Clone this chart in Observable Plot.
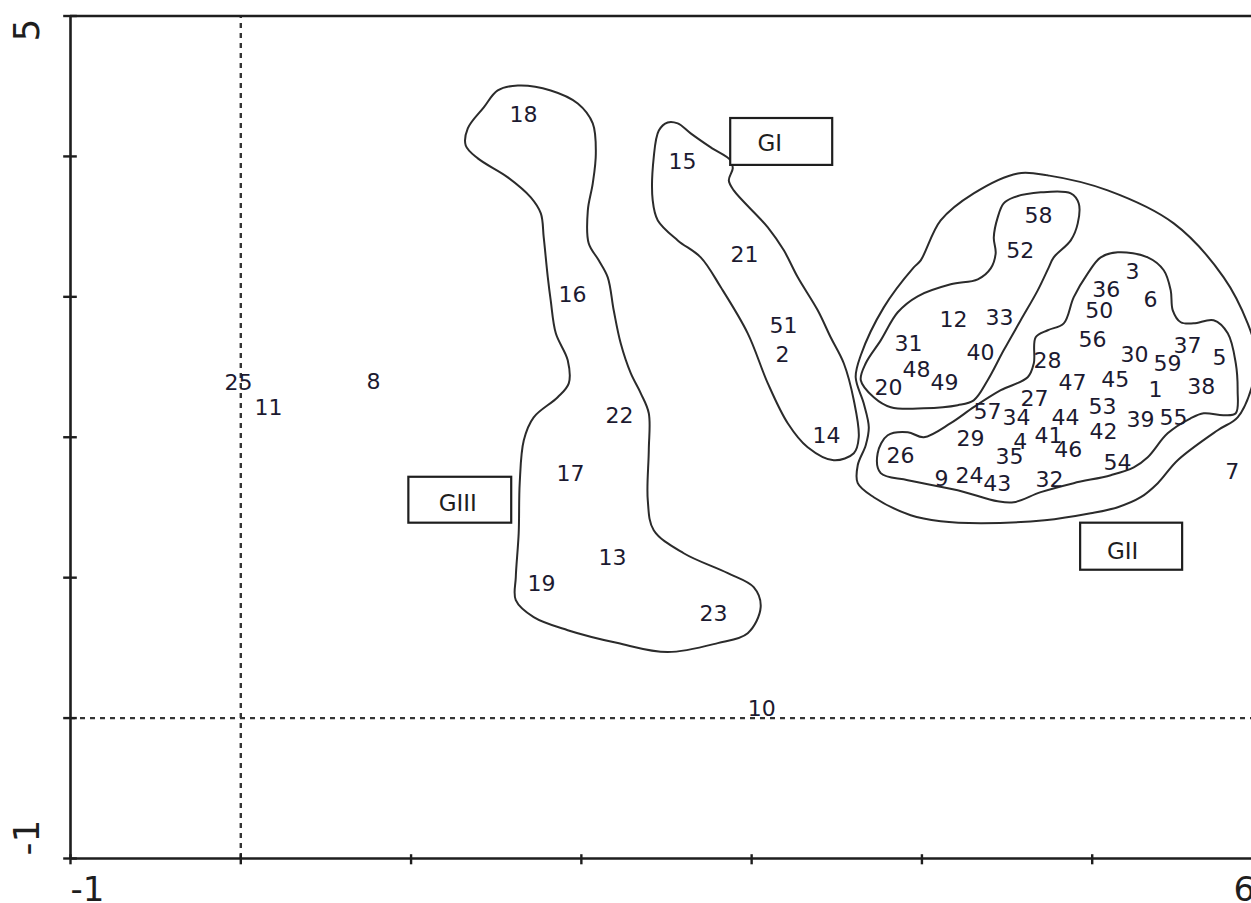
<!DOCTYPE html>
<html>
<head>
<meta charset="utf-8">
<script src="https://cdn.jsdelivr.net/npm/d3@7"></script>
<script src="https://cdn.jsdelivr.net/npm/@observablehq/plot@0.6"></script>
<style>
  html, body { margin: 0; padding: 0; background: #fff; overflow: hidden; }
  #chart { width: 1251px; height: 903px; overflow: hidden; }
</style>
</head>
<body>
<div id="chart"></div>
<script>
// ---- point labels (accession numbers) ----
const pointIds = ["18","15","21","16","51","2","14","22","17","13","19","23","25","11","8","10",
  "58","52","3","36","6","50","12","33","31","40","56","28","30","59","37","5",
  "48","20","49","47","45","1","38","27","57","34","44","53","39","55","42",
  "29","4","41","46","35","26","54","9","24","43","32","7"];
const pointX = [1.660,2.594,2.958,1.948,3.187,3.181,3.439,2.224,1.936,2.183,1.766,2.776,-0.013,0.163,0.779,3.06,
  4.684,4.578,5.236,5.083,5.342,5.042,4.185,4.455,3.921,4.344,5.001,4.737,5.248,5.442,5.559,5.747,
  3.968,3.803,4.132,4.884,5.136,5.371,5.641,4.661,4.385,4.555,4.843,5.060,5.283,5.477,5.066,
  4.285,4.578,4.743,4.860,4.514,3.874,5.148,4.115,4.279,4.443,4.749,5.823];
const pointY = [4.295,3.961,3.299,3.014,2.794,2.587,2.011,2.153,1.740,1.142,0.957,0.744,2.388,2.210,2.395,0.065,
  3.577,3.327,3.178,3.050,2.979,2.900,2.836,2.851,2.665,2.601,2.694,2.544,2.587,2.523,2.651,2.566,
  2.480,2.352,2.388,2.388,2.409,2.338,2.359,2.274,2.181,2.139,2.139,2.217,2.125,2.139,2.039,
  1.989,1.968,2.011,1.911,1.861,1.868,1.819,1.705,1.726,1.669,1.698,1.754];

// ---- group outlines (data units) ----
const outlineGIII = [[1.627,4.505],[1.820,4.470],[1.979,4.377],[2.067,4.235],[2.085,4.021],[2.067,3.808],[2.038,3.616],
  [2.043,3.381],[2.102,3.260],[2.155,3.139],[2.190,2.904],[2.231,2.669],[2.290,2.456],[2.349,2.313],[2.396,2.171],
  [2.396,1.907],[2.390,1.552],[2.425,1.338],[2.601,1.174],[2.860,1.032],[3.012,0.932],[3.053,0.790],[2.977,0.605],
  [2.801,0.534],[2.507,0.470],[2.214,0.534],[1.920,0.626],[1.720,0.719],[1.615,0.840],[1.615,1.004],[1.632,1.317],
  [1.638,1.673],[1.662,1.979],[1.720,2.142],[1.861,2.285],[1.926,2.384],[1.920,2.548],[1.850,2.740],[1.820,2.975],
  [1.803,3.139],[1.779,3.423],[1.762,3.594],[1.703,3.708],[1.568,3.851],[1.392,3.986],[1.321,4.078],[1.333,4.199],
  [1.427,4.349],[1.509,4.470]];
const outlineGI = [[2.507,4.242],[2.566,4.235],[2.642,4.164],[2.760,4.064],[2.877,3.972],[2.889,3.915],[2.866,3.829],
  [2.895,3.758],[3.095,3.495],[3.189,3.331],[3.271,3.139],[3.388,2.904],[3.464,2.712],[3.541,2.527],[3.600,2.263],
  [3.629,2.000],[3.600,1.886],[3.482,1.836],[3.329,1.929],[3.212,2.100],[3.095,2.384],[2.977,2.740],[2.819,3.068],
  [2.701,3.281],[2.566,3.402],[2.449,3.544],[2.419,3.687],[2.425,3.993],[2.455,4.185]];
const outlineGIIa = [[4.480,3.665],[4.539,3.708],[4.698,3.744],[4.874,3.737],[4.921,3.665],[4.915,3.523],[4.874,3.402],
  [4.774,3.281],[4.745,3.210],[4.680,3.046],[4.580,2.833],[4.480,2.619],[4.386,2.406],[4.304,2.263],[4.210,2.228],
  [4.011,2.206],[3.817,2.214],[3.717,2.285],[3.641,2.406],[3.670,2.527],[3.758,2.690],[3.858,2.890],[3.975,3.004],
  [4.169,3.089],[4.328,3.125],[4.404,3.203],[4.433,3.310],[4.422,3.423],[4.445,3.566]];
const outlineGIIb = [[5.150,3.317],[5.326,3.281],[5.420,3.189],[5.461,3.046],[5.473,2.904],[5.520,2.819],[5.596,2.811],
  [5.713,2.833],[5.796,2.740],[5.843,2.527],[5.854,2.335],[5.843,2.171],[5.772,2.157],[5.655,2.171],[5.578,2.135],
  [5.443,2.028],[5.326,1.858],[5.244,1.786],[5.109,1.730],[4.891,1.673],[4.698,1.609],[4.539,1.537],[4.445,1.544],
  [4.210,1.623],[3.917,1.694],[3.758,1.744],[3.740,1.886],[3.799,2.014],[3.917,2.036],[4.011,2.000],[4.169,2.100],
  [4.304,2.214],[4.463,2.335],[4.621,2.427],[4.657,2.527],[4.668,2.712],[4.739,2.762],[4.833,2.811],[4.891,2.996],
  [4.974,3.167],[5.050,3.281]];
const outlineGII = [[4.563,3.879],[4.739,3.865],[5.091,3.758],[5.479,3.523],[5.772,3.139],[5.913,2.811],[5.966,2.584],
  [5.937,2.356],[5.854,2.142],[5.737,2.050],[5.502,1.836],[5.385,1.673],[5.285,1.573],[5.150,1.502],[4.991,1.459],
  [4.721,1.409],[4.345,1.388],[4.110,1.402],[3.934,1.445],[3.717,1.573],[3.623,1.673],[3.623,1.801],[3.670,1.943],
  [3.688,2.071],[3.658,2.242],[3.611,2.427],[3.641,2.584],[3.776,2.925],[3.952,3.210],[3.993,3.260],[4.110,3.544],
  [4.304,3.737]];

// ---- group boxes ----
const groupNames = ["GI", "GII", "GIII"];
const boxX1 = [2.877, 4.932, 0.987];
const boxX2 = [3.476, 5.531, 1.591];
const boxY1 = [3.936, 1.053, 1.388];
const boxY2 = [4.270, 1.388, 1.715];
const groupTextX = [3.106, 5.179, 1.274];
const groupTextY = [4.093, 1.189, 1.530];

// ---- axes ----
const xTicks = [-1, 0, 1, 2, 3, 4, 5];
const yTicks = [-1, 0, 1, 2, 3, 4, 5];
const xMinLabel = [{v: -1, t: "-1"}];
const xMaxLabel = [{v: 6, t: "6"}];
const yMaxLabel = [{v: 5, t: "5"}];
const yMinLabel = [{v: -1, t: "-1"}];

// build tables
const points = pointIds.map((id, i) => ({id, x: pointX[i], y: pointY[i]}));
const outlines = [];
[["GIII", outlineGIII], ["GI", outlineGI], ["GIIa", outlineGIIa], ["GIIb", outlineGIIb], ["GII", outlineGII]]
  .forEach(([g, arr]) => arr.forEach(([x, y]) => outlines.push({g, x, y})));
const boxes = groupNames.map((name, i) => ({name, x1: boxX1[i], x2: boxX2[i], y1: boxY1[i], y2: boxY2[i], tx: groupTextX[i], ty: groupTextY[i]}));

const ink = "#1e1e1e";
const tx = 0.04, ty = 0.045; // half tick length in data units

const chart = Plot.plot({
  width: 1251,
  height: 903,
  margin: 0,
  x: {domain: [-1, 6], range: [70, 1262], axis: null},
  y: {domain: [-1, 5], range: [858, 15.5], axis: null},
  style: {fontFamily: "'DejaVu Sans', sans-serif", background: "white", overflow: "hidden"},
  marks: [
    // dashed reference lines
    Plot.ruleX([0], {y1: -1, y2: 5, stroke: "#333", strokeWidth: 2.4, strokeDasharray: "5,5"}),
    Plot.ruleY([0], {x1: -1, x2: 6, stroke: "#333", strokeWidth: 2.4, strokeDasharray: "5,5"}),
    // frame lines
    Plot.ruleX([-1], {y1: -1, y2: 5, stroke: ink, strokeWidth: 2.6}),
    Plot.ruleY([-1], {x1: -1, x2: 6, stroke: ink, strokeWidth: 2.6}),
    Plot.ruleY([5], {x1: -1, x2: 6, stroke: ink, strokeWidth: 2.4}),
    // ticks
    Plot.ruleY(yTicks, {y: d => d, x1: -1 - tx, x2: -1 + tx, stroke: ink, strokeWidth: 2.4}),
    Plot.ruleX(xTicks, {x: d => d, y1: -1 - ty, y2: -1 + ty * 0.6, stroke: ink, strokeWidth: 2.4}),
    // tick labels
    Plot.text(xMinLabel, {x: "v", y: -1, text: "t", fontSize: 34, fill: ink, dy: 32, textAnchor: "start"}),
    Plot.text(xMaxLabel, {x: "v", y: -1, text: "t", fontSize: 34, fill: ink, dy: 32, dx: -29, textAnchor: "start"}),
    Plot.text(yMaxLabel, {x: -1, y: "v", text: "t", fontSize: 36, fill: ink, rotate: -90, dx: -43, dy: 14}),
    Plot.text(yMinLabel, {x: -1, y: "v", text: "t", fontSize: 36, fill: ink, rotate: -90, dx: -43, dy: -21}),
    // group outlines
    Plot.line(outlines, {x: "x", y: "y", z: "g", curve: "catmull-rom-closed", stroke: "#2b2b2b", strokeWidth: 2}),
    // group boxes
    Plot.rect(boxes, {x1: "x1", x2: "x2", y1: "y1", y2: "y2", fill: "white", stroke: ink, strokeWidth: 2.2}),
    Plot.text(boxes, {x: "tx", y: "ty", text: "name", fontSize: 23, fill: ink, ariaLabel: "group-label"}),
    // point labels
    Plot.text(points, {x: "x", y: "y", text: "id", fontSize: 22, fill: "#1c1a30"})
  ]
});
const gl = chart.querySelector('g[aria-label="group-label"]');
if (gl) gl.style.letterSpacing = "2px";
document.getElementById("chart").appendChild(chart);
</script>
</body>
</html>
